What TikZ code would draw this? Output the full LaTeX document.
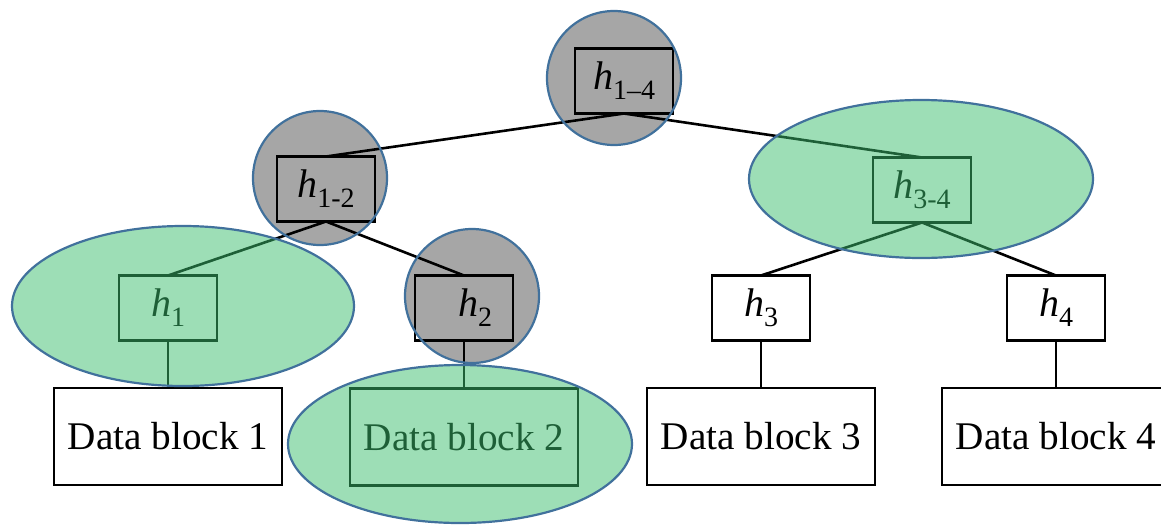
\documentclass[tikz,border=0pt]{standalone}
\usepackage{fontspec}
\setmainfont{Liberation Serif}
\definecolor{ringblue}{RGB}{65,113,156}
\definecolor{hlgreen}{RGB}{60,190,110}
\newcommand\hlab[1]{\textit{h}\raisebox{-0.25em}{\fontsize{14}{15}\selectfont #1}}
\tikzset{
  hashbox/.style={draw=black, line width=1.3pt, inner sep=0pt, outer sep=0pt,
    minimum width=49pt, minimum height=32.5pt, font=\fontsize{20}{24}\selectfont},
  datablock/.style={draw=black, line width=1.3pt, inner sep=0pt, outer sep=0pt,
    minimum width=114pt, minimum height=48.5pt, font=\fontsize{19.6}{24}\selectfont},
  link/.style={line width=1.3pt, black},
  greenmark/.style={draw=ringblue, line width=1.1pt, fill=hlgreen, fill opacity=0.5},
  graymark/.style={draw=ringblue, line width=1.1pt, fill=black, fill opacity=0.35},
}
\begin{document}
\begin{tikzpicture}[x=0.5pt, y=-0.5pt]
\useasboundingbox (0,0) rectangle (1161,525);

% hash tree nodes
\node[hashbox] (h14) at (624,81) {\hlab{1--4}};
\node[hashbox] (h12) at (326,189) {\hlab{1-2}};
\node[hashbox] (h34) at (922,190) {\hlab{3-4}};
\node[hashbox] (h1) at (168,308) {\hlab{1}};
\node[hashbox] (h2) at (464,308) {\hspace{11pt}\hlab{2}};
\node[hashbox] (h3) at (761,308) {\hlab{3}};
\node[hashbox] (h4) at (1056,308) {\hlab{4}};

% data blocks
\node[datablock] (d1) at (168,436.5) {Data block 1};
\node[datablock] (d2) at (464,437) {Data block 2};
\node[datablock] (d3) at (761,436.5) {Data block 3};
\node[datablock] (d4) at (1056,436.5) {Data block 4};

% tree edges
\draw[link] (h14.south) -- (h12.north);
\draw[link] (h14.south) -- (h34.north);
\draw[link] (h12.south) -- (h1.north);
\draw[link] (h12.south) -- (h2.north);
\draw[link] (h34.south) -- (h3.north);
\draw[link] (h34.south) -- (h4.north);
\draw[link] (h1.south) -- (d1.north);
\draw[link] (h2.south) -- (d2.north);
\draw[link] (h3.south) -- (d3.north);
\draw[link] (h4.south) -- (d4.north);

% highlighted regions
\draw[greenmark] (183,306) ellipse [x radius=171, y radius=80];
\draw[greenmark] (460,444) ellipse [x radius=172, y radius=79];
\draw[greenmark] (921,179) ellipse [x radius=172, y radius=79];
\draw[graymark] (614,78) circle [radius=67];
\draw[graymark] (320,178) circle [radius=67];
\draw[graymark] (472,296) circle [radius=67];
\end{tikzpicture}
\end{document}
